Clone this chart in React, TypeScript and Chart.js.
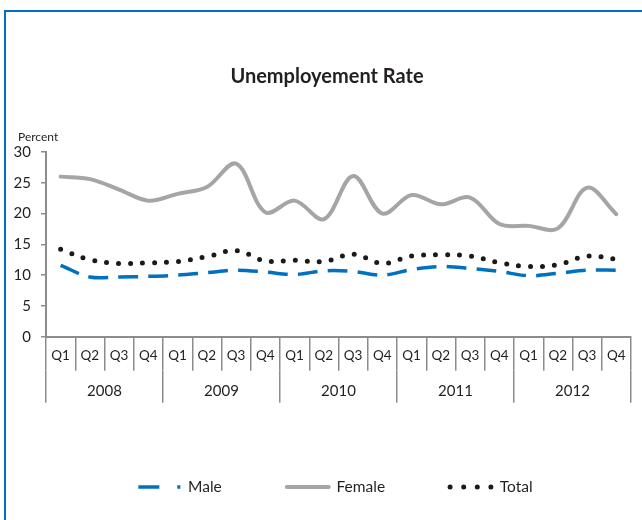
import React, { useEffect, useRef } from 'react';
import { Chart, registerables } from 'chart.js';

Chart.register(...registerables);

const TITLE = 'Unemployement Rate';
const UNIT_LABEL = 'Percent';
const quarterLabels = [
  'Q1', 'Q2', 'Q3', 'Q4',
  'Q1', 'Q2', 'Q3', 'Q4',
  'Q1', 'Q2', 'Q3', 'Q4',
  'Q1', 'Q2', 'Q3', 'Q4',
  'Q1', 'Q2', 'Q3', 'Q4',
];
const yearLabels = ['2008', '2009', '2010', '2011', '2012'];
const seriesNames = ['Male', 'Female', 'Total'];
const maleRate = [11.6, 9.7, 9.7, 9.8, 10.0, 10.4, 10.8, 10.5, 10.1, 10.7, 10.6, 10.0, 10.9, 11.4, 11.1, 10.6, 9.9, 10.3, 10.8, 10.8];
const femaleRate = [26.0, 25.6, 23.9, 22.1, 23.2, 24.3, 28.1, 20.2, 22.1, 19.1, 26.1, 20.0, 23.0, 21.5, 22.6, 18.3, 18.0, 17.6, 24.2, 19.9];
const totalRate = [14.2, 12.5, 11.9, 12.0, 12.2, 13.0, 14.0, 12.3, 12.4, 12.2, 13.4, 11.9, 13.1, 13.3, 13.1, 12.0, 11.4, 11.7, 13.1, 12.6];
const yMin = 0;
const yMax = 30;
const yStep = 5;

export default function App() {
  const ref = useRef<HTMLCanvasElement>(null);

  useEffect(() => {
    if (!ref.current) return;
    const FONT = 'Lato, "Open Sans", sans-serif';
    const TEXT = '#231f20';
    const AXIS = '#8c8c8c';
    const colors = ['#0070C0', '#a5a5a5', '#1a1a1a'];
    const widths = [3.5, 4, 5];
    const dashes = [[20, 10], [], [0, 12]];
    const caps = ['butt', 'round', 'round'];
    const legendDashes = [[21, 18, 3, 100], [], [0, 13.6]];

    const framePlugin = {
      id: 'frame',
      beforeDraw(chart: any) {
        const c = chart.ctx;
        c.save();
        c.fillStyle = '#0070C0';
        c.fillRect(4, 10, 2, chart.height - 10);
        c.fillRect(4, 10, chart.width - 4, 2);
        c.restore();
      },
    };
    // horizontal placement of the header/footer boxes
    const boxShift = {
      id: 'boxShift',
      afterLayout(chart: any) {
        chart.boxes.forEach((b: any) => {
          let dx = 0;
          if (b === chart.legend) dx = 20;
          else if (b === chart.titleBlock) dx = 11.5;
          else if (b.options && b.options.text === UNIT_LABEL) dx = 18;
          if (dx) {
            b.left += dx;
            b.right += dx;
          }
        });
      },
    };

    const series = [maleRate, femaleRate, totalRate];
    const chart = new Chart(ref.current, {
      type: 'line',
      data: {
        labels: quarterLabels,
        datasets: series.map((d, i) => ({
          label: seriesNames[i],
          data: d,
          borderColor: colors[i],
          backgroundColor: colors[i],
          borderWidth: widths[i],
          borderDash: dashes[i],
          borderCapStyle: caps[i] as any,
          pointRadius: 0,
          fill: false,
          tension: 0.35,
        })),
      },
      options: {
        responsive: false,
        animation: false,
        devicePixelRatio: 1,
        layout: { padding: { left: 0, right: 11, top: 0, bottom: 15.3 } },
        plugins: {
          title: {
            display: true,
            text: TITLE,
            color: TEXT,
            font: { family: FONT, size: 20, weight: 'bold' },
            padding: { top: 65, bottom: 0 },
          },
          subtitle: {
            display: true,
            text: UNIT_LABEL,
            align: 'start',
            color: TEXT,
            font: { family: FONT, size: 12 },
            padding: { top: 41.3, bottom: 7.3 },
          },
          legend: {
            display: true,
            position: 'bottom',
            labels: {
              usePointStyle: true,
              pointStyleWidth: 42,
              padding: 65,
              color: TEXT,
              font: { family: FONT, size: 15.5 },
              generateLabels: (ch: any) =>
                ch.data.datasets.map((ds: any, i: number) => ({
                  text: ds.label,
                  fillStyle: ds.borderColor,
                  strokeStyle: ds.borderColor,
                  fontColor: TEXT,
                  lineWidth: ds.borderWidth,
                  lineDash: legendDashes[i],
                  lineCap: ds.borderCapStyle,
                  pointStyle: 'line',
                  hidden: false,
                  datasetIndex: i,
                })),
            },
          },
          tooltip: { enabled: false },
        },
        scales: {
          x: {
            type: 'category',
            offset: true,
            grid: { display: true, offset: true, drawOnChartArea: false, drawTicks: true, tickLength: 34, color: AXIS, lineWidth: 1.5 },
            border: { display: true, color: AXIS, width: 2 },
            ticks: { color: TEXT, font: { family: FONT, size: 13.5 }, padding: -23, maxRotation: 0, autoSkip: false },
            afterFit: (s: any) => { s.height = 34; },
          },
          x2: {
            type: 'category',
            labels: yearLabels,
            position: 'bottom',
            offset: true,
            grid: { display: true, offset: true, drawOnChartArea: false, drawTicks: true, tickLength: 32, color: AXIS, lineWidth: 1.5 },
            border: { display: false },
            ticks: { color: TEXT, font: { family: FONT, size: 15 }, padding: -21, maxRotation: 0, autoSkip: false },
            afterFit: (s: any) => { s.height = 43.5; },
          },
          y: {
            min: yMin,
            max: yMax,
            ticks: { stepSize: yStep, color: TEXT, font: { family: FONT, size: 15 }, padding: 10 },
            grid: { display: true, drawOnChartArea: false, drawTicks: true, tickLength: 5, color: AXIS, lineWidth: 1.5 },
            border: { display: true, color: AXIS, width: 2 },
            afterFit: (s: any) => { s.width = 46; },
          },
        },
      } as any,
      plugins: [framePlugin, boxShift],
    });
    return () => chart.destroy();
  }, []);

  return (
    <div style={{ position: 'absolute', left: 0, top: 0, width: 642, height: 520, background: '#fff' }}>
      <canvas ref={ref} width={642} height={520} style={{ display: 'block' }} />
    </div>
  );
}
